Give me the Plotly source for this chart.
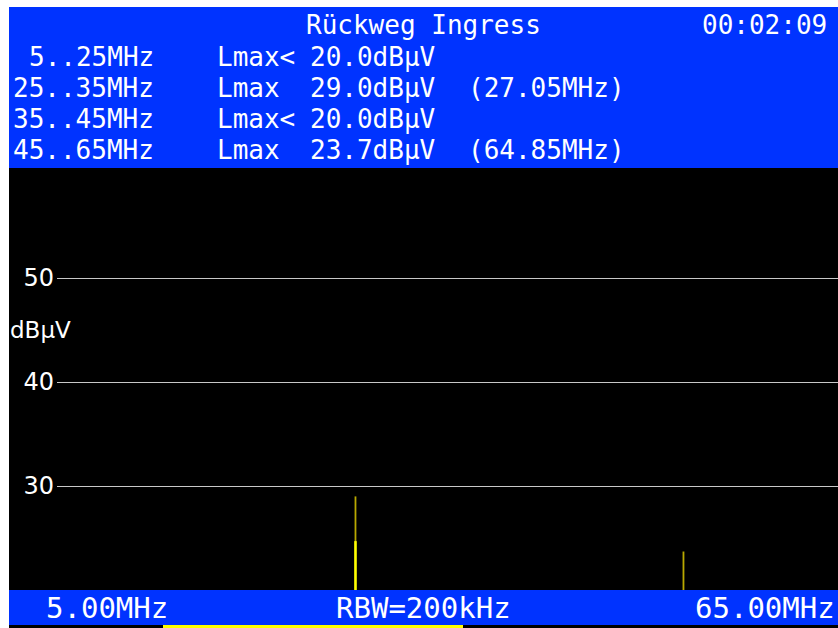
import plotly.graph_objects as go

# ---- measurement data -------------------------------------------------------
title_text = "Rückweg Ingress"
clock_text = "00:02:09"

band_labels = ["5..25MHz", "25..35MHz", "35..45MHz", "45..65MHz"]
band_marks = ["Lmax<", "Lmax", "Lmax<", "Lmax"]
band_levels = ["20.0dBµV", "29.0dBµV", "20.0dBµV", "23.7dBµV"]
band_peaks = ["", "(27.05MHz)", "", "(64.85MHz)"]

# max-hold peaks (MHz, dBµV)
maxhold_freq = [27.05, 64.85]
maxhold_dbuv = [29.0, 23.7]
# live sweep peaks (MHz, dBµV)
live_freq = [27.05]
live_dbuv = [24.7]

level_floor = 20.0
level_top = 60.58
freq_window = [-7.35, 82.66]
grid_levels = [30, 40, 50]
grid_labels = ["30", "40", "50"]

footer_left = "5.00MHz"
footer_mid = "RBW=200kHz"
footer_right = "65.00MHz"

# ---- styling ------------------------------------------------------------------
W, H = 838, 628
BLUE = "#0033ff"
YELLOW = "#ffff00"
OLIVE = "#b8a800"
MONO = "DejaVu Sans Mono"
SANS = "DejaVu Sans"


def px(x):
    return x / W


def py(y):
    return 1 - y / H


def stems(freqs, levels):
    xs, ys = [], []
    for f, v in zip(freqs, levels):
        xs += [f, f, None]
        ys += [level_floor, v, None]
    return xs, ys


fig = go.Figure()

mx, my = stems(maxhold_freq, maxhold_dbuv)
fig.add_trace(go.Scatter(x=mx, y=my, mode="lines",
                         line=dict(color=OLIVE, width=1.8),
                         hoverinfo="skip", showlegend=False))
lx, ly = stems(live_freq, live_dbuv)
fig.add_trace(go.Scatter(x=lx, y=ly, mode="lines",
                         line=dict(color=YELLOW, width=2.5),
                         hoverinfo="skip", showlegend=False))

shapes = [
    # header panel
    dict(type="rect", xref="paper", yref="paper", x0=px(9), x1=1,
         y0=py(168), y1=py(7), fillcolor=BLUE, line_width=0, layer="below"),
    # black screen strip left of the scale
    dict(type="rect", xref="paper", yref="paper", x0=px(9), x1=px(57),
         y0=py(590), y1=py(168), fillcolor="black", line_width=0, layer="below"),
    # footer panel
    dict(type="rect", xref="paper", yref="paper", x0=px(9), x1=1,
         y0=py(625), y1=py(590), fillcolor=BLUE, line_width=0, layer="below"),
    # bottom strip with progress bar
    dict(type="rect", xref="paper", yref="paper", x0=px(9), x1=1,
         y0=0, y1=py(625), fillcolor="black", line_width=0, layer="below"),
    dict(type="rect", xref="paper", yref="paper", x0=px(163), x1=px(463),
         y0=0, y1=py(625), fillcolor=YELLOW, line_width=0, layer="below"),
]

annotations = []


def label(text, x, y, anchor="left", size=26, family=MONO, color="white"):
    annotations.append(dict(text=text, x=px(x), y=py(y), xref="paper", yref="paper",
                            xanchor=anchor, yanchor="middle", showarrow=False,
                            font=dict(family=family, size=size, color=color)))


label(title_text, 424, 25, "center")
label(clock_text, 829, 25, "right")
row_y = [57, 88, 119, 150]
for i, yy in enumerate(row_y):
    label(band_labels[i], 156, yy, "right")
    label(band_marks[i], 215, yy, "left")
    label(band_levels[i], 308, yy, "left")
    if band_peaks[i]:
        label(band_peaks[i], 466, yy, "left")

label("dBµV", 8, 330, "left", size=23, family=SANS)

label(footer_left, 107, 608, "center", size=29)
label(footer_mid, 424, 608, "center", size=29)
label(footer_right, 837, 608, "right", size=29)

fig.update_layout(
    width=W, height=H,
    margin=dict(l=0, r=0, t=0, b=0),
    paper_bgcolor="white",
    plot_bgcolor="black",
    shapes=shapes,
    annotations=annotations,
    xaxis=dict(domain=[px(57), 1], range=freq_window, visible=False,
               showgrid=False, zeroline=False, fixedrange=True),
    yaxis=dict(domain=[py(590), py(168)], range=[level_floor, level_top],
               tickmode="array", tickvals=grid_levels, ticktext=grid_labels,
               showgrid=True, gridcolor="#c8c8c8", gridwidth=1.2,
               zeroline=False, showline=False, ticks="",
               ticklabelstandoff=2,
               tickfont=dict(family=SANS, size=24, color="white"),
               fixedrange=True),
)

fig.write_html("out.html")
